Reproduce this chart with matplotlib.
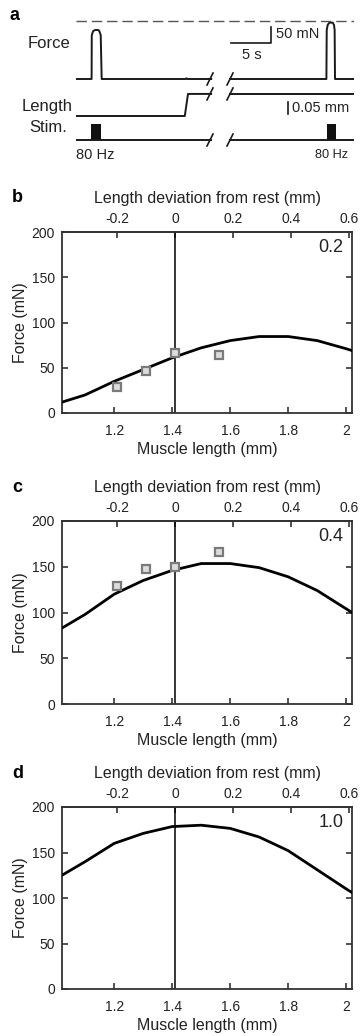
import numpy as np
import matplotlib
matplotlib.use("Agg")
import matplotlib.pyplot as plt

plt.rcParams['font.family'] = ['Liberation Sans', 'DejaVu Sans']

W, H = 361, 1036
fig = plt.figure(figsize=(W / 100, H / 100), dpi=100)

def px_axes(x0, y0, x1, y1):
    return fig.add_axes([x0 / W, 1 - y1 / H, (x1 - x0) / W, (y1 - y0) / H])

def fig_text(x, y, s, **kw):
    fig.text(x / W, 1 - y / H, s, **kw)

# ---------------- panel a: example recording ----------------
t_end = 34.75
t_break = (16.9, 19.25)

force_t_left = [0, 1.95, 1.97, 2.04, 2.16, 2.38, 2.79, 2.91, 3.09, 3.21, 13.7, 13.8, 13.95, 16.9]
force_left = [0, 0, 130, 137, 144, 147, 147, 144, 132, 0, 0, 2, 0, 0]
force_t_right = [19.25, 31.3, 31.34, 31.46, 31.66, 32.09, 32.25, 32.33, 32.375, t_end]
force_right = [0, 0, 147, 162, 169, 169, 162, 147, 0, 0]
force_max = 174

length_t_left = [0, 13.6, 14.0, 16.9]
length_left = [0, 0, 0.092, 0.092]
length_t_right = [19.25, t_end]
length_right = [0.092, 0.092]

stim_trains = [(1.875, 3.125), (31.375, 32.5)]

px_per_s = 8.0
px_per_mn = 1 / 3
px_per_mm = 240.0
x0_px = 76

def trace_axes(top, bottom, zero_row, px_per_unit):
    ax = px_axes(x0_px, top, x0_px + t_end * px_per_s, bottom)
    ax.set_xlim(0, t_end)
    ax.set_ylim(-(bottom - zero_row) / px_per_unit, (zero_row - top) / px_per_unit)
    ax.axis('off')
    return ax

def slashes(ax, centre, px_per_unit):
    dy = 6 / px_per_unit
    for tc in (16.75, 19.25):
        ax.plot([tc - 0.375, tc + 0.375], [centre - dy, centre + dy],
                color='#1a1a1a', lw=1.2, clip_on=False)

trace_kw = dict(color='#1a1a1a', lw=1.4, solid_joinstyle='round')

axf = trace_axes(10, 90, 79, px_per_mn)
axf.plot(force_t_left, force_left, **trace_kw)
axf.plot(force_t_right, force_right, **trace_kw)
dash, = axf.plot([0, t_end], [force_max, force_max], color='#555555', lw=1.0)
dash.set_dashes((7.5, 3.5))
slashes(axf, 0, px_per_mn)
# scale bars: 5 s and 50 mN
axf.plot([19.4, 24.35, 24.35], [107, 107, 157], color='#1a1a1a', lw=1.2)
axf.text(24.95, 134, '50 mN', fontsize=10.5, ha='left', va='center', color='#222222')
axf.text(20.75, 72, '5 s', fontsize=10.5, ha='left', va='center', color='#222222')

axl = trace_axes(80, 120, 116, px_per_mm)
axl.plot(length_t_left, length_left, **trace_kw)
axl.plot(length_t_right, length_right, **trace_kw)
slashes(axl, 0.092, px_per_mm)
axl.plot([26.54, 26.54], [0.008, 0.058], color='#1a1a1a', lw=1.2, clip_on=False)
axl.text(27.0, 0.033, '0.05 mm', fontsize=10.5, ha='left', va='center', color='#222222')

axs = trace_axes(120, 148, 140, 16)
axs.plot([0, t_break[0]], [0, 0], **trace_kw)
axs.plot([t_break[1], t_end], [0, 0], **trace_kw)
for t0, t1 in stim_trains:
    axs.fill_between([t0, t1], 0, 1, color='#111111', lw=0)
slashes(axs, 0, 16)

fig_text(70, 43, 'Force', fontsize=12, ha='right', va='center', color='#222222')
fig_text(73, 106, 'Length', fontsize=12, ha='right', va='center', color='#222222')
fig_text(67, 127, 'Stim.', fontsize=12, ha='right', va='center', color='#222222')
fig_text(76, 155, '80 Hz', fontsize=10.5, ha='left', va='center', color='#222222')
fig_text(348, 155, '80 Hz', fontsize=9.2, ha='right', va='center', color='#222222')
fig_text(10, 15, 'a', fontsize=13, fontweight='bold', ha='left', va='center')

# ---------------- panels b-d: force-length curves ----------------
rest_length = 1.41
length_model = [1.02, 1.1, 1.2, 1.3, 1.4, 1.5, 1.6, 1.7, 1.8, 1.9, 2.0, 2.02]
force_model_02 = [12, 20, 35, 48, 61, 72, 80, 84.5, 84.5, 80, 71, 69]
force_model_04 = [83, 98, 120, 135, 146, 153.5, 153.5, 149, 139, 124, 104, 100]
force_model_10 = [125, 140, 160, 171, 178.5, 180, 176.5, 167, 152, 131, 110, 106]

length_exp = [1.21, 1.31, 1.41, 1.56]
force_exp_02 = [29, 46, 66, 64]
force_exp_04 = [129, 148, 150, 166]

panels = [
    ('b', '0.2', force_model_02, force_exp_02, 232, 413),
    ('c', '0.4', force_model_04, force_exp_04, 521, 704),
    ('d', '1.0', force_model_10, None, 807, 989),
]

spine_col = '#333333'
for letter, act, model, exp, top, bottom in panels:
    ax = px_axes(62, top, 352, bottom)
    ax.plot(length_model, model, color='black', lw=2.0, solid_joinstyle='round', zorder=3)
    if exp is not None:
        ax.plot(length_exp, exp, ls='none', marker='s', ms=5.5, mfc='#dcdcdc',
                mec='#7a7a7a', mew=1.6, zorder=4)
    ax.axvline(rest_length, color='black', lw=1.1, zorder=2)
    ax.set_xlim(1.02, 2.02)
    ax.set_ylim(0, 200)
    ax.set_xticks([1.2, 1.4, 1.6, 1.8, 2.0])
    ax.set_xticklabels(['1.2', '1.4', '1.6', '1.8', '2'])
    ax.set_yticks([0, 50, 100, 150, 200])
    ax.tick_params(direction='in', length=4, width=1.2, color=spine_col,
                   labelsize=10, labelcolor='#222222', right=True, pad=5)
    ax.tick_params(axis='x', pad=8)
    for sp in ax.spines.values():
        sp.set_color(spine_col)
        sp.set_linewidth(1.3)
    ax.set_xlabel('Muscle length (mm)', fontsize=11.5, color='#222222', labelpad=3)
    ax.set_ylabel('Force (mN)', fontsize=11.5, color='#222222', labelpad=3)

    sec = ax.secondary_xaxis('top', functions=(lambda x: x - rest_length,
                                                lambda d: d + rest_length))
    sec.set_xticks([-0.2, 0, 0.2, 0.4, 0.6])
    sec.set_xticklabels(['-0.2', '0', '0.2', '0.4', '0.6'])
    sec.tick_params(direction='in', length=4, width=1.2, color=spine_col,
                    labelsize=10, labelcolor='#222222', pad=4)
    sec.spines['top'].set_color(spine_col)
    sec.spines['top'].set_linewidth(1.3)
    sec.set_xlabel('Length deviation from rest (mm)', fontsize=11.5,
                   color='#222222', labelpad=7)

    ax.text(0.97, 0.915, act, transform=ax.transAxes, fontsize=13,
            ha='right', va='center', color='#222222')
    fig_text(12, top - 34, letter, fontsize=13, fontweight='bold', ha='left', va='center')

fig.savefig('out.png', dpi=100)
